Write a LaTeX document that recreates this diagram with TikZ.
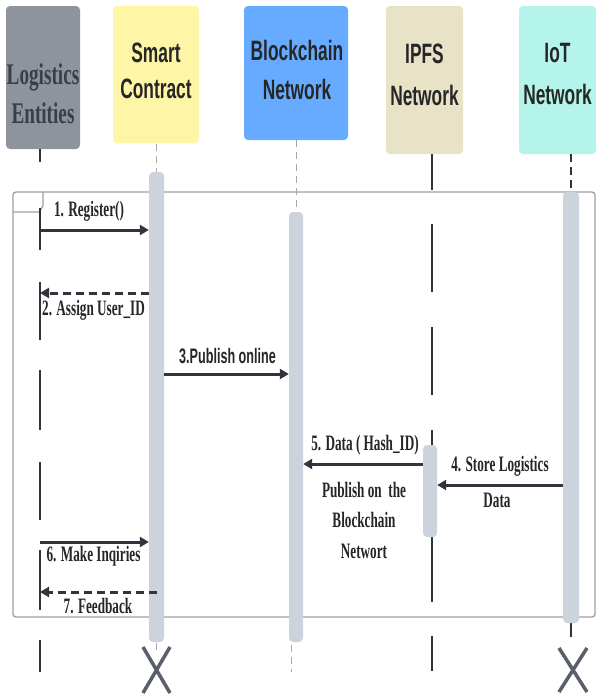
\documentclass[tikz,border=0pt]{standalone}
\usepackage{fontspec}
\usetikzlibrary{arrows.meta}
\newfontfamily\hsans[FakeStretch=0.62]{Liberation Sans Bold}
\newfontfamily\hserif[FakeStretch=0.64]{Liberation Serif Bold}
\newfontfamily\lserif[FakeStretch=0.6]{Liberation Serif Bold}
\newfontfamily\lsans[FakeStretch=0.6]{Liberation Sans Bold}
\definecolor{lgray}{HTML}{8F949C}
\definecolor{lyellow}{HTML}{FEF6A6}
\definecolor{lblue}{HTML}{66ABFF}
\definecolor{lbeige}{HTML}{E8E2C7}
\definecolor{lmint}{HTML}{B5F4EA}
\definecolor{barc}{HTML}{CDD3DC}
\definecolor{arrc}{HTML}{30353D}
\definecolor{framec}{HTML}{A0A0A0}
\definecolor{xc}{HTML}{5A606A}
\definecolor{lifec}{HTML}{2F343B}
\definecolor{thinc}{HTML}{A8A8A8}
\definecolor{txtc}{HTML}{262626}
\definecolor{ltxt}{HTML}{3A3F47}
\begin{document}
\begin{tikzpicture}[x=1pt,y=-1pt,
  hbox/.style={draw=none, rounded corners=4pt, inner sep=0pt},
  htext/.style={inner sep=0pt, align=center, text=txtc},
  actbar/.style={fill=barc, draw=none, rounded corners=4pt, inner sep=0pt},
  msg/.style={draw=arrc, line width=3pt, -{Triangle[length=9pt,width=10pt]}},
  reply/.style={msg, dash pattern=on 8pt off 5pt},
  lbl/.style={inner sep=0pt, align=center, text=txtc, font=\lserif\fontsize{22}{30.5}\selectfont},
  lifedark/.style={draw=lifec, line width=2pt},
  lifethin/.style={draw=thinc, line width=1pt, dash pattern=on 7pt off 5pt},
  xmark/.style={draw=xc, line width=3.5pt}
]
\useasboundingbox (0,0) rectangle (596,696);
\fill[white] (0,0) rectangle (596,696);

% frame
\draw[framec, line width=1.3pt, rounded corners=3pt] (13,192) rectangle (595,617);
\draw[framec, line width=1.3pt] (13,212) -- (39,212) -- (43,206) -- (43,192);

% header boxes
\node[hbox, fill=lgray, minimum width=74pt, minimum height=143pt] (le) at (43,77.5) {};
\node[hbox, fill=lyellow, minimum width=86pt, minimum height=137pt] (sc) at (156,74.5) {};
\node[hbox, fill=lblue, minimum width=104pt, minimum height=134pt] (bc) at (296,73) {};
\node[hbox, fill=lbeige, minimum width=77pt, minimum height=148pt] (ip) at (424.5,80) {};
\node[hbox, fill=lmint, minimum width=77pt, minimum height=148pt] (io) at (557.5,80) {};

\node[htext, text=ltxt, font=\hserif\fontsize{30}{39.5}\selectfont] (let) at (43,93.5) {Logistics\\Entities};
\node[htext, font=\hsans\fontsize{28}{36}\selectfont] (sct) at (156,71) {Smart\\Contract};
\node[htext, font=\hsans\fontsize{28}{39}\selectfont] (bct) at (297,69.5) {Blockchain\\Network};
\node[htext, font=\hsans\fontsize{28}{42}\selectfont] (ipt) at (424.5,75) {IPFS\\Network};
\node[htext, font=\hsans\fontsize{28}{42}\selectfont] (iot) at (557.5,74) {IoT\\Network};

% lifelines
\foreach \a/\b in {149/162,208/250,282/340,370/430,462/520,550/610,640/672}
  \draw[lifedark] (40,\a) -- (40,\b);
\foreach \a/\b in {154/190,224/292,327/395,430/446,536/602,636/671}
  \draw[lifedark] (432,\a) -- (432,\b);
\draw[lifethin] (156.5,144) -- (156.5,172);
\draw[lifethin] (156,643) -- (156,652);
\draw[lifethin] (296,140) -- (296,212);
\draw[lifethin] (291,645) -- (291,672);
\draw[lifedark, dash pattern=on 8pt off 5pt] (571,154) -- (571,192);
\draw[lifedark] (571,623) -- (571,637);

% activation bars
\node[actbar, minimum width=15pt, minimum height=470pt] (scb) at (156.5,407) {};
\node[actbar, minimum width=14pt, minimum height=430pt] (bcb) at (296,427) {};
\node[actbar, minimum width=14pt, minimum height=92pt] (ipb) at (430,491) {};
\node[actbar, minimum width=16pt, minimum height=431pt] (iob) at (571,407.5) {};

% messages
\coordinate (m1) at (40,230);
\draw[msg] (m1) -- (m1 -| scb.west);
\coordinate (m2) at (40,293);
\draw[reply] (m2 -| scb.west) -- (m2);
\coordinate (m3) at (0,374);
\draw[msg] (m3 -| scb.east) -- (m3 -| bcb.west);
\coordinate (m4) at (0,485);
\draw[msg] (m4 -| iob.west) -- (m4 -| ipb.east);
\coordinate (m5) at (0,464);
\draw[msg] (m5 -| ipb.west) -- (m5 -| bcb.east);
\coordinate (m6) at (40,542);
\draw[msg] (m6) -- (m6 -| scb.west);
\coordinate (m7) at (40,592);
\draw[reply] (m7 -| scb.center) -- (m7);

% labels
\node[lbl] (l1) at (89,211) {1. Register()};
\node[lbl] (l2) at (93.5,310) {2. Assign User\_ID};
\node[lbl, font=\lsans\fontsize{21}{25}\selectfont] (l3) at (227.5,356) {3.Publish online};
\node[lbl] (l4) at (500,466) {4. Store Logistics};
\node[lbl] (l4b) at (497,500) {Data};
\node[lbl] (l5) at (365,445) {5. Data ( Hash\_ID)};
\node[lbl] (l5b) at (364,520) {Publish on~~the\\Blockchain\\Networt};
\node[lbl] (l6) at (93.5,556) {6. Make Inqiries};
\node[lbl] (l7) at (98,606) {7. Feedback};

% destruction marks
\draw[xmark] (143,647) -- (170,693) (170,647) -- (143,693);
\draw[xmark] (559,648) -- (587,692) (587,648) -- (559,692);
\end{tikzpicture}
\end{document}
